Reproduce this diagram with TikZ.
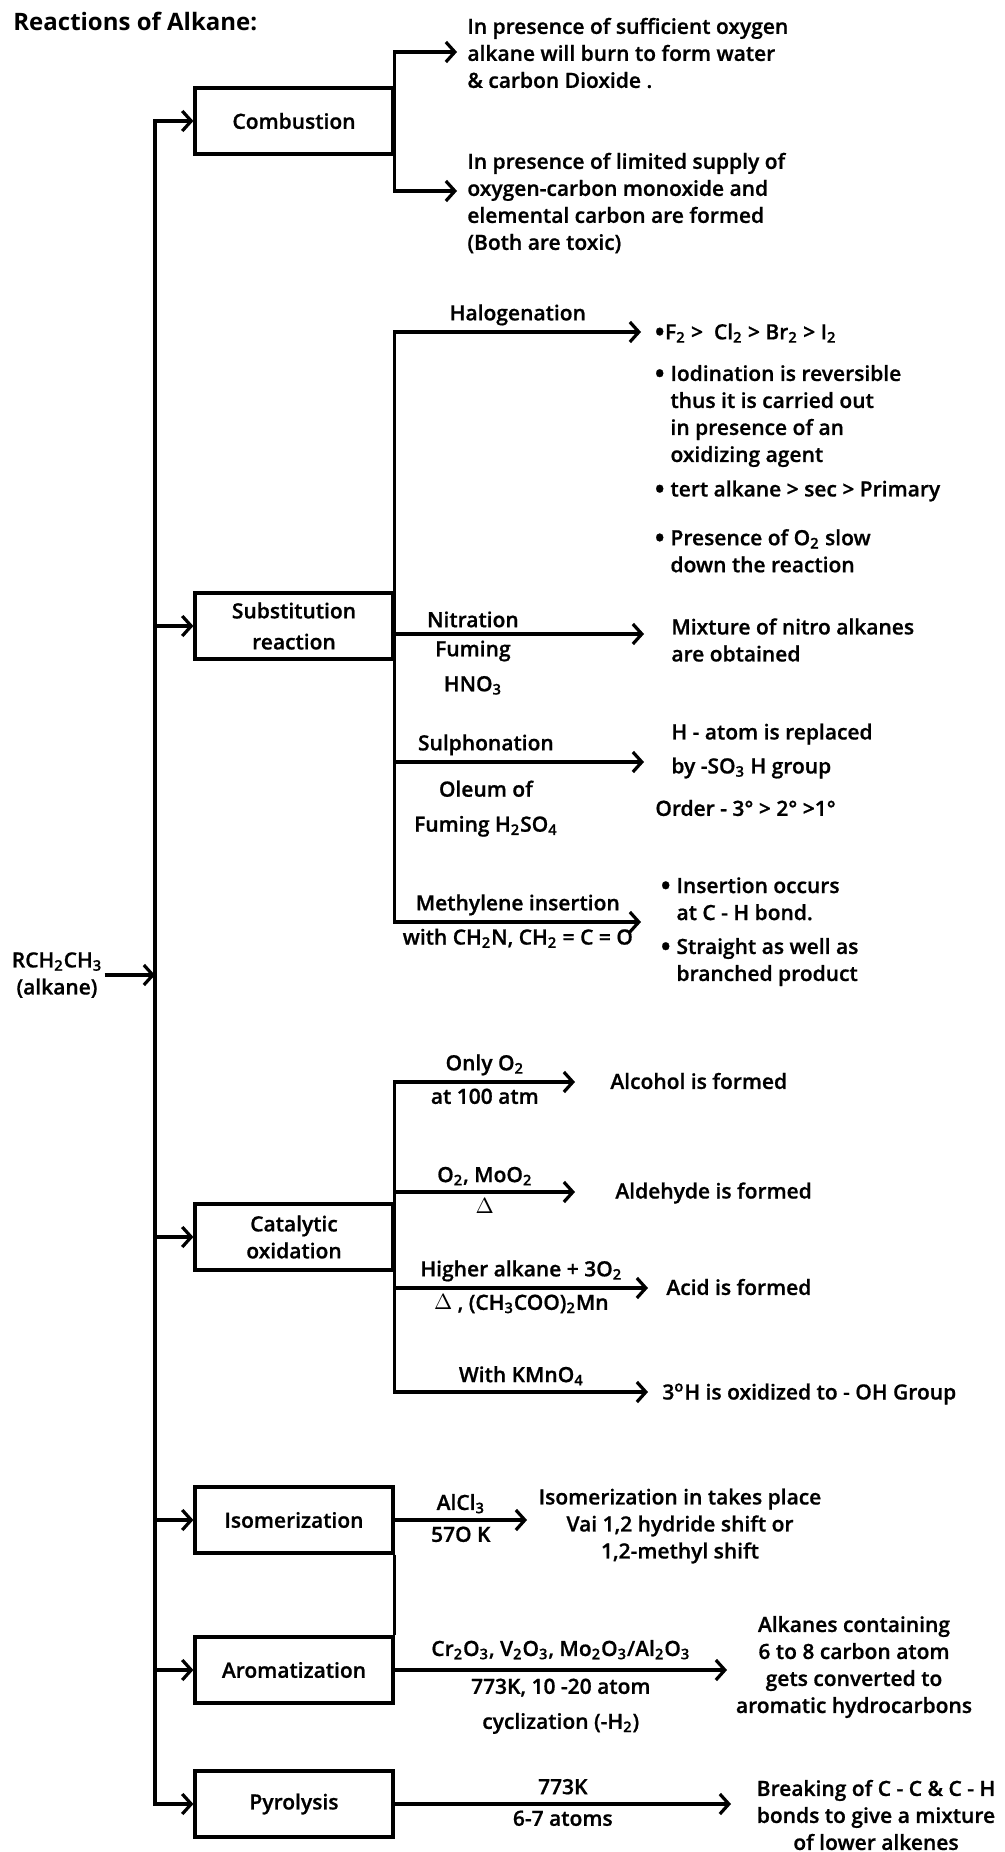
\documentclass[tikz,border=0pt]{standalone}
\usepackage{fontspec}
\setmainfont{Open Sans}[UprightFont=* Semibold,BoldFont=* Bold,UprightFeatures={FakeBold=0.8}]
\usetikzlibrary{arrows.meta}
\newcommand{\ssub}[1]{\textsubscript{#1}}
\newcommand{\bul}{\raisebox{-1.3pt}{\scalebox{1.35}{\textbullet}}}
\newcommand{\bsp}{\phantom{\bul\ }}

\begin{document}
\begin{tikzpicture}[x=0.5pt,y=-0.5pt,
        every node/.style={font=\fontsize{10.5}{13.5}\selectfont},
        box/.style={rectangle,draw,line width=1.6pt,minimum width=99pt,minimum height=33pt,align=center,inner sep=2pt},
        arrow/.style={-{Straight Barb[length=4.5pt,width=10pt]},line width=1.6pt},
        txt/.style={anchor=west,align=left,inner sep=0pt},
        lbl/.style={align=center,inner sep=2.5pt}]
        \useasboundingbox (0,0) rectangle (1005,1852);
        \node[anchor=west,inner sep=0pt,font=\bfseries\fontsize{12}{14}\selectfont] (title) at (13,21) {Reactions of Alkane:};

        % reactant and the main line
        \node[align=center,inner sep=1pt] (alk) at (57,975) {RCH\ssub2CH\ssub3\\(alkane)};
        \coordinate (spine) at (155,0);

        % reaction types
        \node[box] (comb) at (294,121) {Combustion};
        \node[box] (subs) at (294,626) {Substitution\\[2pt]reaction};
        \node[box] (cat) at (294,1237) {Catalytic\\oxidation};
        \node[box] (iso) at (294,1520) {Isomerization};
        \node[box] (aro) at (294,1670) {Aromatization};
        \node[box] (pyr) at (294,1804) {Pyrolysis};

        \draw[arrow] (alk.east) -- (alk.east -| spine);
        \draw[arrow] (alk.east -| spine) |- (comb.west);
        \draw[arrow] (alk.east -| spine) |- (pyr.west);
        \foreach \b in {subs,cat,iso,aro}
            \draw[arrow] (\b.west -| spine) -- (\b.west);

        % combustion
        \coordinate (combT1) at (457,52);
        \coordinate (combT2) at (457,191);
        \draw[arrow] (comb.east) |- (combT1);
        \draw[arrow] (comb.east) |- (combT2);
        \node[txt] (combR1) at (467,53) {In presence of sufficient oxygen\\alkane will burn to form water\\\& carbon Dioxide .};
        \node[txt] (combR2) at (467,203) {In presence of limited supply of\\oxygen-carbon monoxide and\\elemental carbon are formed\\(Both are toxic)};

        % substitution
        \coordinate (halT) at (641,332);
        \coordinate (nitT) at (644,634);
        \coordinate (sulT) at (644,762);
        \coordinate (metT) at (641,922);
        \draw[arrow] (subs.east) |- node[pos=0.75,lbl,above]{Halogenation} (halT);
        \draw[arrow] (subs.east) |- node[pos=0.657,lbl,above]{Nitration} node[pos=0.657,lbl,below]{Fuming\\[4pt]HNO\ssub3} (nitT);
        \draw[arrow] (subs.east) |- node[pos=0.683,lbl,above]{Sulphonation} node[pos=0.683,lbl,below=6pt]{Oleum of\\[4pt]Fuming H\ssub2SO\ssub4} (sulT);
        \draw[arrow] (subs.east) |- node[pos=0.75,lbl,above]{Methylene insertion} node[pos=0.75,lbl,below]{with CH\ssub2N, CH\ssub2 = C = O} (metT);
        \node[txt] (halR1) at (654,333) {\bul F\ssub2 >\ \ Cl\ssub2 > Br\ssub2 > I\ssub2};
        \node[txt] (halR2) at (654,416) {\bul\ Iodination is reversible\\\bsp thus it is carried out\\\bsp in presence of an\\\bsp oxidizing agent};
        \node[txt] (halR3) at (654,491) {\bul\ tert alkane > sec > Primary};
        \node[txt] (halR4) at (654,552) {\bul\ Presence of O\ssub2 slow\\\bsp down the reaction};
        \node[txt] (nitR) at (671,640) {Mixture of nitro alkanes\\are obtained};
        \node[txt] (sulR1) at (671,751) {H - atom is replaced\\[3.5pt]by -SO\ssub3 H group};
        \node[txt] (sulR2) at (655,808) {Order - 3° > 2° >1°};
        \node[txt] (metR1) at (660,900) {\bul\ Insertion occurs\\\bsp at C - H bond.};
        \node[txt] (metR2) at (660,962) {\bul\ Straight as well as\\\bsp branched product};

        % catalytic oxidation
        \coordinate (alcT) at (575,1082);
        \coordinate (aldT) at (575,1192);
        \coordinate (acdT) at (648,1288);
        \coordinate (kmnT) at (648,1392);
        \draw[arrow] (cat.east) |- node[pos=0.75,lbl,above]{Only O\ssub2} node[pos=0.75,lbl,below]{at 100 atm} (alcT);
        \draw[arrow] (cat.east) |- node[pos=0.75,lbl,above]{O\ssub2, MoO\ssub2} node[pos=0.75,lbl,below]{$\Delta$} (aldT);
        \draw[arrow] (cat.east) |- node[pos=0.75,lbl,above]{Higher alkane + 3O\ssub2} node[pos=0.75,lbl,below]{$\Delta$ , (CH\ssub3COO)\ssub2Mn} (acdT);
        \draw[arrow] (cat.east) |- node[pos=0.75,lbl,above]{With KMnO\ssub4} (kmnT);
        \node[txt] (alcR) at (610,1081) {Alcohol is formed};
        \node[txt] (aldR) at (615,1193) {Aldehyde is formed};
        \node[txt] (acdR) at (666,1287) {Acid is formed};
        \node[txt] (kmnR) at (662,1394) {3\textsuperscript{o}H is oxidized to - OH Group};

        % isomerization, aromatization, pyrolysis
        \coordinate (isoT) at (527,1520);
        \coordinate (aroT) at (727,1670);
        \coordinate (pyrT) at (731,1804);
        \draw[line width=1.6pt] (iso.south east) -- (aro.north east);
        \draw[arrow] (iso.east) -- node[lbl,above]{AlCl\ssub3} node[lbl,below]{57O K} (isoT);
        \draw[arrow] (aro.east) -- node[lbl,above=2pt]{Cr\ssub2O\ssub3, V\ssub2O\ssub3, Mo\ssub2O\ssub3/Al\ssub2O\ssub3} node[lbl,below=1pt]{773K, 10 -20 atom\\[4pt]cyclization (-H\ssub2)} (aroT);
        \draw[arrow] (pyr.east) -- node[lbl,above=1.5pt]{773K} node[lbl,below]{6-7 atoms} (pyrT);
        \node[align=center,inner sep=0pt] (isoR) at (680,1526) {Isomerization in takes place\\Vai 1,2 hydride shift or\\1,2-methyl shift};
        \node[align=center,inner sep=0pt] (aroR) at (854,1667) {Alkanes containing\\6 to 8 carbon atom\\gets converted to\\aromatic hydrocarbons};
        \node[align=center,inner sep=0pt] (pyrR) at (876,1815) {Breaking of C - C \& C - H\\bonds to give a mixture\\of lower alkenes};
    \end{tikzpicture}
\end{document}
